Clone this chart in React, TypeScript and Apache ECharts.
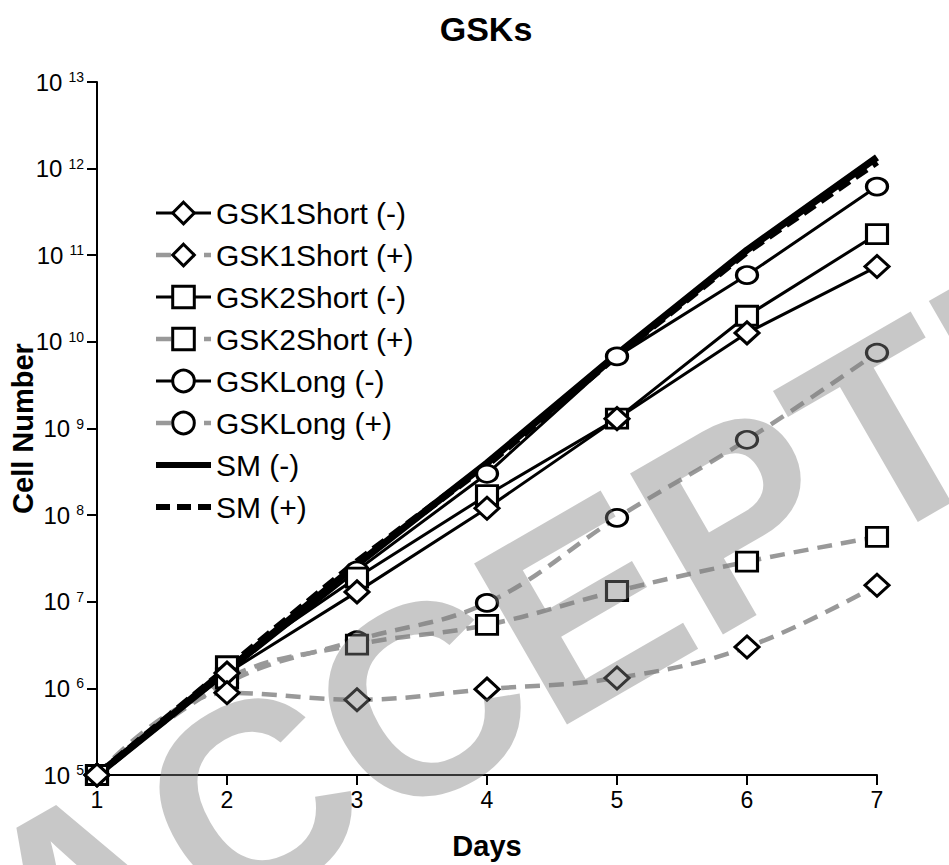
import React, { useEffect, useRef } from "react";
import * as echarts from "echarts";

const days = [1, 2, 3, 4, 5, 6, 7];
const gsk1ShortMinus = [1e5, 1.5e6, 1.3e7, 1.2e8, 1.3e9, 1.27e10, 7.4e10];
const gsk1ShortPlus = [1e5, 8.9e5, 7.4e5, 9.8e5, 1.32e6, 3.0e6, 1.55e7];
const gsk2ShortMinus = [1e5, 1.8e6, 1.9e7, 1.7e8, 1.3e9, 2.0e10, 1.75e11];
const gsk2ShortPlus = [1e5, 1.3e6, 3.2e6, 5.4e6, 1.33e7, 2.9e7, 5.6e7];
const gskLongMinus = [1e5, 1.5e6, 2.3e7, 3.0e8, 6.8e9, 5.9e10, 6.2e11];
const gskLongPlus = [1e5, 1.15e6, 3.6e6, 9.7e6, 9.3e7, 7.4e8, 7.5e9];
const smMinus = [1e5, 1.6e6, 2.7e7, 4.0e8, 7.2e9, 1.15e11, 1.35e12];
const smPlus = [1e5, 1.7e6, 2.9e7, 3.8e8, 7.0e9, 1.1e11, 1.2e12];

const seriesNames = [
  "GSK1Short (-)",
  "GSK1Short (+)",
  "GSK2Short (-)",
  "GSK2Short (+)",
  "GSKLong (-)",
  "GSKLong (+)",
  "SM (-)",
  "SM (+)",
];

const FONT = "'Liberation Sans', Arial, Helvetica, sans-serif";

export default function App() {
  const ref = useRef<HTMLDivElement>(null);

  useEffect(() => {
    const chart = echarts.init(ref.current as HTMLDivElement, null, { renderer: "svg" });
    const pair = (arr: number[]) => days.map((d, i) => [d, arr[i]]);

    const marker = { color: "#fff", borderColor: "#000", borderWidth: 3 };
    const solidLine = { color: "#000", width: 3, type: "solid" };
    const dashLine = { color: "#999999", width: 4.5, type: [15, 9] };
    const smSolidLine = { color: "#000", width: 7, type: "solid" };
    const smDashLine = { color: "#000", width: 7, type: [14, 7] };

    const solid = (name: string, symbol: string, size: number[], data: number[]) => ({
      name,
      type: "line",
      data: pair(data),
      symbol,
      symbolSize: size,
      clip: false,
      lineStyle: solidLine,
      itemStyle: marker,
      emphasis: { disabled: true },
    });
    const dashed = (name: string, symbol: string, size: number[], data: number[]) => ({
      name,
      type: "line",
      data: pair(data),
      symbol,
      symbolSize: size,
      smooth: 0.4,
      clip: false,
      lineStyle: dashLine,
      itemStyle: marker,
      emphasis: { disabled: true },
    });

    const diamond = [24, 22];
    const square = [21, 19];
    const circle = [21, 17];

    // drawing order: circles beneath squares beneath diamonds
    const series: any[] = [
      solid(seriesNames[4], "circle", circle, gskLongMinus),
      dashed(seriesNames[5], "circle", circle, gskLongPlus),
      solid(seriesNames[2], "rect", square, gsk2ShortMinus),
      dashed(seriesNames[3], "rect", square, gsk2ShortPlus),
      solid(seriesNames[0], "diamond", diamond, gsk1ShortMinus),
      dashed(seriesNames[1], "diamond", diamond, gsk1ShortPlus),
      {
        name: seriesNames[6],
        type: "line",
        data: pair(smMinus),
        symbol: "none",
        clip: false,
        lineStyle: smSolidLine,
        itemStyle: { color: "#000" },
        emphasis: { disabled: true },
      },
      {
        name: seriesNames[7],
        type: "line",
        data: pair(smPlus),
        symbol: "none",
        clip: false,
        lineStyle: smDashLine,
        itemStyle: { color: "#000" },
        emphasis: { disabled: true },
      },
    ];

    const legendLines = [solidLine, dashLine, solidLine, dashLine, solidLine, dashLine, smSolidLine, smDashLine];
    const legendData = seriesNames.map((n, i) =>
      i >= 6
        ? {
            name: n,
            itemStyle: { color: "rgba(0,0,0,0)", borderWidth: 0, opacity: 0 },
            lineStyle: { ...legendLines[i], width: 6 },
          }
        : {
            name: n,
            itemStyle: { color: "#fff", borderColor: "#000", borderWidth: 3 },
            lineStyle: { ...legendLines[i] },
          }
    );

    chart.setOption({
      animation: false,
      backgroundColor: "#fff",
      textStyle: { fontFamily: FONT },
      title: {
        text: "GSKs",
        left: 481,
        top: 7,
        textAlign: "center",
        textStyle: { fontSize: 34, fontWeight: "bold", color: "#000", fontFamily: FONT },
      },
      grid: { left: 97, right: 72, top: 82, bottom: 90, containLabel: false, outerBoundsMode: "none" },
      legend: {
        orient: "vertical",
        left: 148,
        top: 193,
        itemWidth: 55,
        itemHeight: 27,
        itemGap: 12,
        selectedMode: false,
        data: legendData,
        textStyle: { fontSize: 30, lineHeight: 27, color: "#000", fontFamily: FONT, padding: [0, 0, 0, 0] },
      },
      xAxis: {
        type: "value",
        min: 1,
        max: 7,
        interval: 1,
        name: "Days",
        nameLocation: "middle",
        nameGap: 56,
        nameMoveOverlap: false,
        nameTextStyle: { fontSize: 29, fontWeight: "bold", color: "#000", fontFamily: FONT },
        axisLine: { show: true, onZero: false, lineStyle: { color: "#000", width: 2 } },
        axisTick: { show: true, length: 10, lineStyle: { color: "#000", width: 2 } },
        axisLabel: { fontSize: 23, color: "#000", margin: 13, fontFamily: FONT },
        splitLine: { show: false },
      },
      yAxis: {
        type: "log",
        logBase: 10,
        min: 1e5,
        max: 1e13,
        interval: 1,
        name: "Cell Number",
        nameLocation: "middle",
        nameGap: 60,
        nameMoveOverlap: false,
        nameTextStyle: { fontSize: 29, fontWeight: "bold", color: "#000", fontFamily: FONT },
        axisLine: { show: true, onZero: false, lineStyle: { color: "#000", width: 2 } },
        axisTick: { show: true, length: 10, lineStyle: { color: "#000", width: 2 } },
        axisLabel: {
          margin: 13,
          formatter: (v: number) => `{b|10}{s|${Math.round(Math.log10(v))}}`,
          rich: {
            b: { fontSize: 24, color: "#000", fontFamily: FONT, lineHeight: 24 },
            s: { fontSize: 14, color: "#000", fontFamily: FONT, verticalAlign: "top", padding: [0, 0, 0, 6] },
          },
        },
        splitLine: { show: false },
        minorTick: { show: false },
      },
      series,
      graphic: [
        {
          type: "text",
          z: 100,
          silent: true,
          x: -2,
          y: 945,
          rotation: Math.PI / 6,
          style: {
            text: "ACCEPTED",
            fontSize: 270,
            fontWeight: "bold",
            fontFamily: FONT,
            fill: "rgba(128,128,128,0.43)",
            align: "left",
            verticalAlign: "middle",
          },
        },
      ],
    });

    return () => chart.dispose();
  }, []);

  return (
    <div
      ref={ref}
      style={{ position: "fixed", left: 0, top: 0, width: 949, height: 865 }}
    />
  );
}
